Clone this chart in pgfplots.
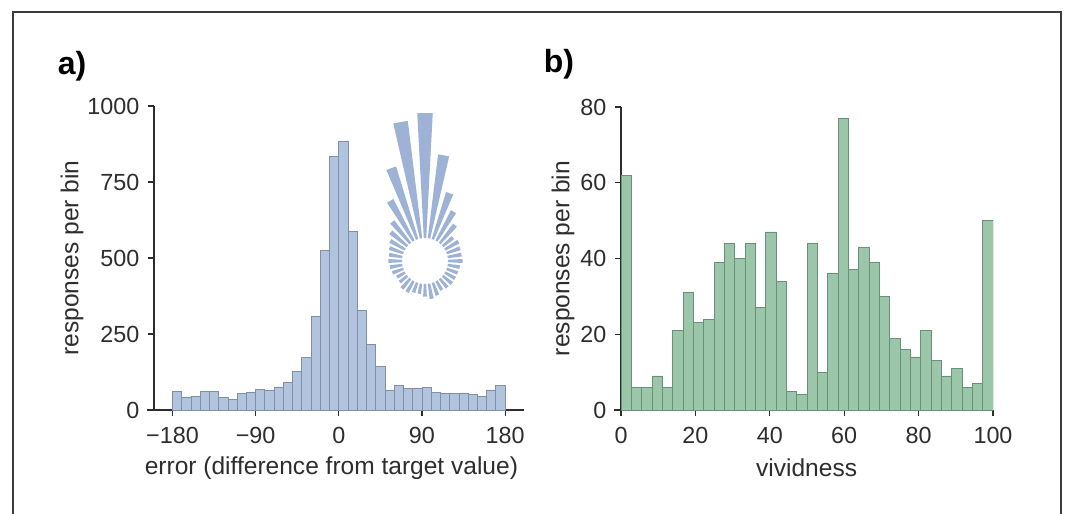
\documentclass[border=0pt]{standalone}
\usepackage{fontspec}
\setmainfont{Liberation Sans}
\usepackage{pgfplots}
\usepackage{pgfplotstable}
\pgfplotsset{compat=1.18}
\usepgfplotslibrary{polar}

\definecolor{histblue}{RGB}{176,196,222}
\definecolor{histedge}{RGB}{128,142,166}
\definecolor{rosecol}{RGB}{157,178,213}
\definecolor{greenfill}{RGB}{155,198,170}
\definecolor{greenedge}{RGB}{105,145,120}
\definecolor{axisgray}{RGB}{45,45,45}
\definecolor{framegray}{RGB}{60,60,60}

% error histogram, 10 degree bins (left edges); last row closes the interval
\pgfplotstableread{
e n
-180 60
-170 43
-160 44
-150 62
-140 62
-130 40
-120 36
-110 53
-100 59
-90 68
-80 66
-70 76
-60 92
-50 126
-40 173
-30 309
-20 524
-10 835
0 885
10 587
20 328
30 217
40 142
50 66
60 82
70 72
80 70
90 75
100 57
110 53
120 53
130 56
140 52
150 44
160 66
170 80
180 80
}\errtab

% vividness histogram, 36 bins on [0,100]
\pgfplotstableread{
v n
0.0000 62
2.7778 6
5.5556 6
8.3333 9
11.1111 6
13.8889 21
16.6667 31
19.4444 23
22.2222 24
25.0000 39
27.7778 44
30.5556 40
33.3333 44
36.1111 27
38.8889 47
41.6667 34
44.4444 5
47.2222 4
50.0000 44
52.7778 10
55.5556 36
58.3333 77
61.1111 37
63.8889 43
66.6667 39
69.4444 30
72.2222 19
75.0000 16
77.7778 14
80.5556 21
83.3333 13
86.1111 9
88.8889 11
91.6667 6
94.4444 7
97.2222 50
100.0000 50
}\vivtab

\newcommand\tickfont{\fontsize{17.5}{20}\selectfont}
\newcommand\labfont{\fontsize{18.4}{21}\selectfont}

\pgfplotsset{
  panel/.style={
    scale only axis,
    axis lines=left,
    axis line style={-, draw=axisgray, line width=0.9pt},
    x axis line style={shorten <=-5.25pt},
    tick align=outside,
    major tick length=4.5pt,
    tick style={draw=axisgray, line width=0.9pt},
    ticklabel style={font=\tickfont, text=axisgray},
    xticklabel style={yshift=-4.5pt},
    yticklabel style={xshift=-3pt},
    ymin=0,
    ylabel={responses per bin},
  },
}

\begin{document}
\begin{tikzpicture}
\useasboundingbox (0,0) rectangle (798.75pt,-385.5pt);
\draw[framegray, line width=1pt] (9.75pt,-400pt) -- (9.75pt,-9pt) -- (795.75pt,-9pt) -- (795.75pt,-400pt);

\node[font=\bfseries\fontsize{24}{28}\selectfont] at (54pt,-50pt) {a)};
\node[font=\bfseries\fontsize{24}{28}\selectfont] at (419.25pt,-48.5pt) {b)};

\begin{axis}[panel,
  at={(115.5pt,-307.5pt)}, anchor=south west,
  width=277.2pt, height=228pt,
  xmin=-200, xmax=200, ymax=1000,
  xtick={-180,-90,0,90,180},
  xticklabels={−180,−90,0,90,180},
  ytick={0,250,500,750,1000},
  yticklabels={0,250,500,750,1000},
  xlabel={error (difference from target value)},
  every axis x label/.style={at={(axis description cs:0.48,-0.19)}, anchor=center, font=\labfont, text=axisgray},
  every axis y label/.style={at={(axis description cs:-0.222,0.5)}, anchor=center, rotate=90, font=\labfont, text=axisgray},
]
\addplot[ybar interval, fill=histblue, draw=histedge, line width=0.6pt] table[x=e, y=n] {\errtab};
\end{axis}

% rose of the same error counts: 0 error points up, positive clockwise
\begin{polaraxis}[
  at={(318.75pt,-195.75pt)}, anchor=center,
  scale only axis, width=224.7pt, height=224.7pt,
  hide axis, ymin=0, ymax=1100, clip=false,
]
\foreach \i in {0,...,35} {
  \pgfplotstablegetelem{\i}{e}\of\errtab \let\ee\pgfplotsretval
  \pgfplotstablegetelem{\i}{n}\of\errtab \let\nn\pgfplotsretval
  \pgfmathsetmacro\tlo{90-(\ee)-3}
  \pgfmathsetmacro\thi{90-(\ee)+3}
  \pgfmathsetmacro\rt{202+\nn}
  \edef\dobar{\noexpand\addplot[draw=none, fill=rosecol] coordinates {(\tlo,169) (\tlo,\rt) (\thi,\rt) (\thi,169)};}
  \dobar
}
\end{polaraxis}

\begin{axis}[panel,
  at={(465.75pt,-307.5pt)}, anchor=south west,
  width=279pt, height=227.25pt,
  xmin=0, xmax=100, ymax=80,
  xtick={0,20,40,60,80,100},
  xticklabels={0,20,40,60,80,100},
  ytick={0,20,40,60,80},
  yticklabels={0,20,40,60,80},
  xlabel={vividness},
  every axis x label/.style={at={(axis description cs:0.499,-0.19)}, anchor=center, font=\labfont, text=axisgray},
  every axis y label/.style={at={(axis description cs:-0.156,0.5)}, anchor=center, rotate=90, font=\labfont, text=axisgray},
]
\addplot[ybar interval, fill=greenfill, draw=greenedge, line width=0.6pt] table[x=v, y=n] {\vivtab};
\end{axis}
\end{tikzpicture}
\end{document}
